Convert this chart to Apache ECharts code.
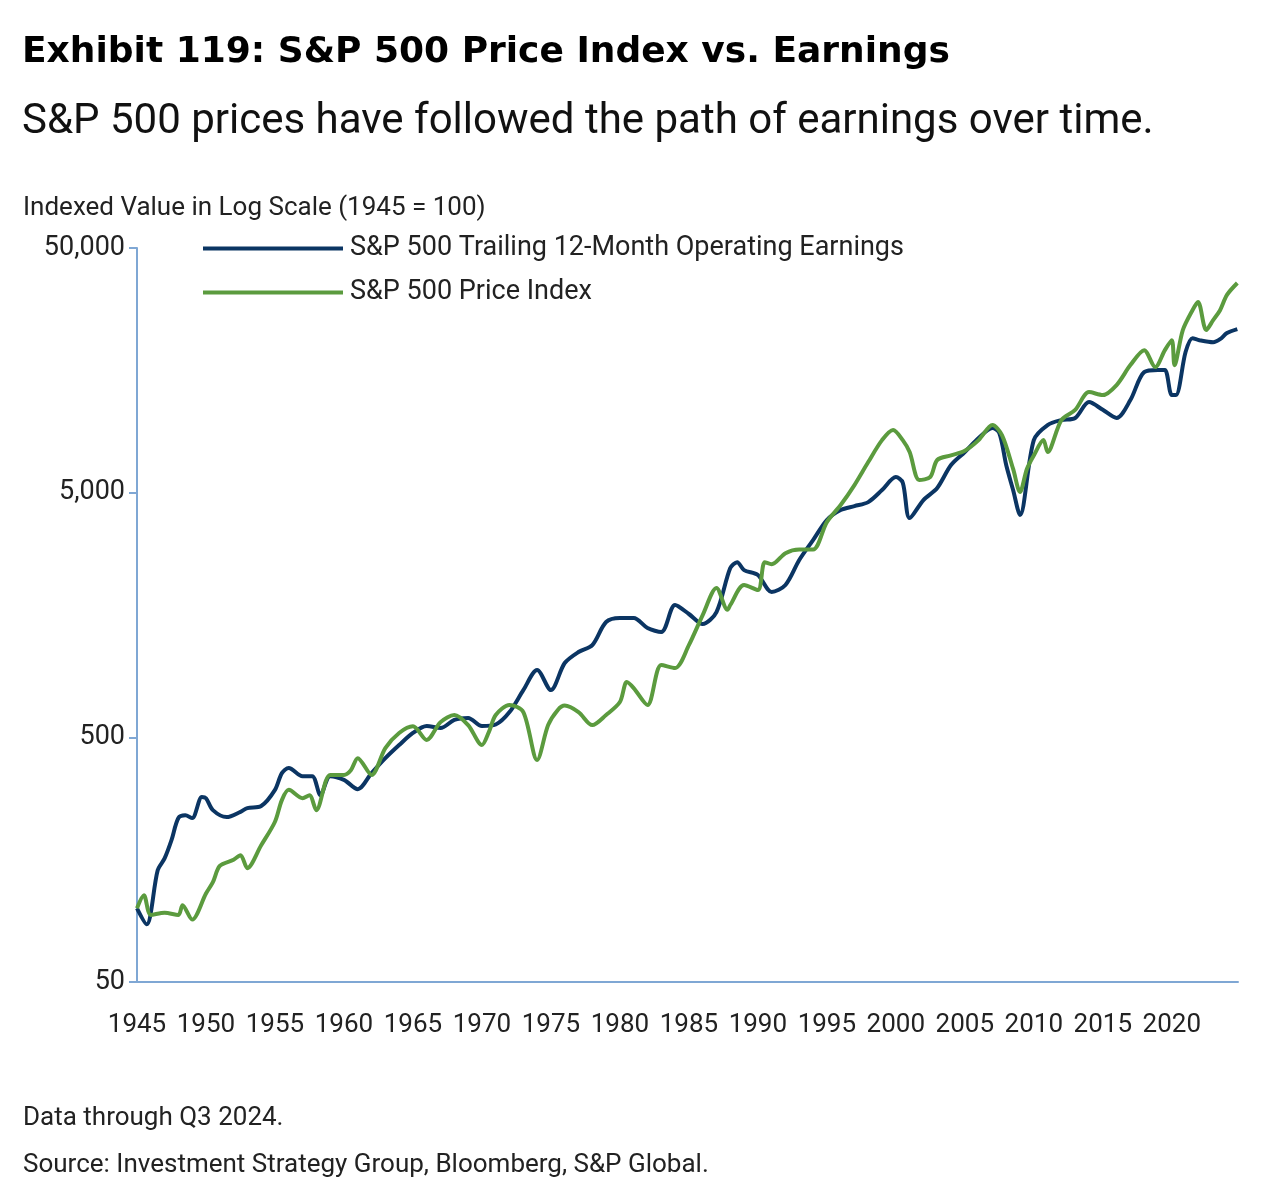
<!DOCTYPE html>
<html>
<head>
<meta charset="utf-8">
<script src="https://cdn.jsdelivr.net/npm/echarts@6/dist/echarts.min.js"></script>
<style>
body { margin: 0; background: #fff; }
#chart { width: 1263px; height: 1198px; }
</style>
</head>
<body>
<div id="chart"></div>
<script>
// indexed values, 1945 = 100
var earnYears = [1945, 1945.7, 1946.5, 1947, 1947.5, 1948, 1948.5, 1949, 1949.7, 1950, 1950.5, 1951.5, 1952.5, 1953, 1954, 1955, 1955.5, 1956, 1957, 1957.7, 1958.3, 1959, 1960, 1961, 1962, 1963, 1964, 1965, 1966, 1967, 1968, 1969, 1970, 1971, 1972, 1973, 1974, 1975, 1976, 1977, 1978, 1979, 1980, 1981, 1982, 1983, 1984, 1985, 1986, 1987, 1988, 1988.5, 1989, 1990, 1991, 1992, 1993, 1994, 1995, 1996, 1997, 1998, 1999, 2000, 2000.5, 2001, 2002, 2003, 2004, 2005, 2006, 2007, 2007.5, 2008, 2008.5, 2009, 2010, 2011, 2012, 2013, 2014, 2015, 2016, 2017, 2018, 2019, 2019.5, 2020, 2020.3, 2021, 2021.5, 2022, 2023, 2023.5, 2024, 2024.75];
var earnings = [100, 86, 143, 160, 190, 234, 240, 234, 285, 282, 252, 236, 248, 257, 262, 305, 357, 375, 347, 347, 290, 347, 335, 307, 357, 411, 465, 521, 556, 546, 589, 600, 556, 564, 634, 780, 942, 780, 1006, 1116, 1191, 1480, 1537, 1537, 1399, 1347, 1737, 1596, 1452, 1626, 2460, 2600, 2413, 2303, 1963, 2096, 2652, 3200, 3864, 4245, 4406, 4575, 5125, 5790, 5500, 3935, 4665, 5225, 6485, 7330, 8360, 9180, 8770, 6485, 5125, 4050, 8200, 9450, 9900, 10100, 11730, 10900, 10100, 11950, 15550, 15850, 15850, 12530, 12530, 18780, 21400, 21000, 20600, 21200, 22450, 23300];

var priceYears = [1945, 1945.5, 1946, 1947, 1948, 1948.3, 1949, 1950, 1950.5, 1951, 1952, 1952.5, 1953, 1954, 1955, 1955.5, 1956, 1957, 1957.5, 1958, 1959, 1960, 1960.5, 1961, 1962, 1963, 1964, 1965, 1966, 1967, 1968, 1969, 1970, 1970.5, 1971, 1972, 1973, 1974, 1974.8, 1975.5, 1976, 1977, 1978, 1979, 1980, 1980.5, 1981, 1982, 1983, 1984, 1985, 1986, 1987, 1987.8, 1988, 1989, 1990, 1990.5, 1991, 1992, 1993, 1994, 1995, 1996, 1997, 1998, 1999, 1999.8, 2000.5, 2001, 2001.7, 2002.5, 2003, 2004, 2005, 2006, 2007, 2007.7, 2008.5, 2009, 2009.5, 2010, 2010.7, 2011, 2012, 2013, 2014, 2015, 2016, 2017, 2018, 2018.8, 2019.5, 2020, 2020.2, 2020.8, 2021.5, 2021.9, 2022.5, 2023, 2023.5, 2024, 2024.75];
var prices = [100, 113, 94, 96, 94, 103, 90, 115, 128, 149, 158, 165, 146, 181, 226, 277, 305, 282, 290, 252, 351, 351, 367, 411, 351, 452, 521, 555, 488, 577, 617, 561, 465, 525, 617, 678, 634, 404, 561, 647, 674, 634, 561, 617, 697, 841, 795, 678, 988, 960, 1191, 1580, 2040, 1660, 1737, 2096, 2000, 2600, 2550, 2830, 2930, 2930, 3790, 4450, 5370, 6670, 8200, 9020, 8200, 7330, 5630, 5800, 6800, 7100, 7420, 8200, 9450, 8580, 6250, 5030, 6250, 7100, 8200, 7330, 9900, 10900, 12880, 12530, 13770, 16610, 19120, 16300, 19120, 21000, 16600, 23100, 27850, 30060, 23100, 25370, 27850, 32150, 35970];

var xTicks = [1945, 1950, 1955, 1960, 1965, 1970, 1975, 1980, 1985, 1990, 1995, 2000, 2005, 2010, 2015, 2020];
var yTicks = [50, 500, 5000, 50000];

function toLog(years, vals) {
	return years.map(function(y, i) { return [y, Math.log10(vals[i] / 5)]; });
}

var font = "'Roboto', sans-serif";
var chart = echarts.init(document.getElementById('chart'));
chart.setOption({
	animation: false,
	title: [{
		text: 'Exhibit 119: S&P 500 Price Index vs. Earnings',
		left: 17, top: 30,
		textStyle: { fontFamily: "'DejaVu Sans', sans-serif", fontWeight: 'bold', fontSize: 36, color: '#000' }
	}, {
		text: 'S&P 500 prices have followed the path of earnings over time.',
		left: 17, top: 96,
		textStyle: { fontFamily: font, fontWeight: 'normal', fontSize: 42, color: '#111' }
	}, {
		text: 'Indexed Value in Log Scale (1945 = 100)',
		left: 18, top: 190,
		textStyle: { fontFamily: font, fontWeight: 'normal', fontSize: 26, color: '#222' }
	}, {
		text: 'Data through Q3 2024.\nSource: Investment Strategy Group, Bloomberg, S&P Global.',
		left: 18, top: 1090,
		textStyle: { fontFamily: font, fontWeight: 'normal', fontSize: 26, lineHeight: 47, color: '#222' }
	}],
	legend: {
		orient: 'vertical',
		left: 198, top: 230,
		itemWidth: 140, itemHeight: 4, itemGap: 17,
		icon: 'rect',
		textStyle: { fontFamily: font, fontSize: 27, color: '#222', padding: [0, 0, 0, 2] },
		data: ['S&P 500 Trailing 12-Month Operating Earnings', 'S&P 500 Price Index']
	},
	grid: { left: 137, right: 25, top: 248, bottom: 216 },
	xAxis: {
		type: 'value', min: 1945, max: 2024.8, interval: 5,
		axisLine: { lineStyle: { color: '#7fa7d4', width: 2 } },
		axisTick: { show: false },
		splitLine: { show: false },
		axisLabel: {
			fontFamily: font, fontSize: 26, color: '#222', margin: 30, showMaxLabel: false,
			formatter: function(v) { return xTicks.indexOf(v) >= 0 ? String(v) : ''; }
		}
	},
	yAxis: {
		type: 'value', min: 1, max: 4, interval: 1,
		axisLine: { show: true, lineStyle: { color: '#7fa7d4', width: 2 } },
		axisTick: { show: true, length: 8, lineStyle: { color: '#7fa7d4', width: 2 } },
		splitLine: { show: false },
		axisLabel: {
			fontFamily: font, fontSize: 27, color: '#222', margin: 12,
			formatter: function(v) { return yTicks[Math.round(v) - 1].toLocaleString('en-US'); }
		}
	},
	series: [{
		name: 'S&P 500 Trailing 12-Month Operating Earnings',
		type: 'line', smooth: 0.3, symbol: 'none',
		color: '#0b3563',
		lineStyle: { width: 4, color: '#0b3563' },
		data: toLog(earnYears, earnings)
	}, {
		name: 'S&P 500 Price Index',
		type: 'line', smooth: 0.3, symbol: 'none',
		color: '#5b9b3e',
		lineStyle: { width: 4, color: '#5b9b3e' },
		data: toLog(priceYears, prices)
	}]
});
</script>
</body>
</html>
